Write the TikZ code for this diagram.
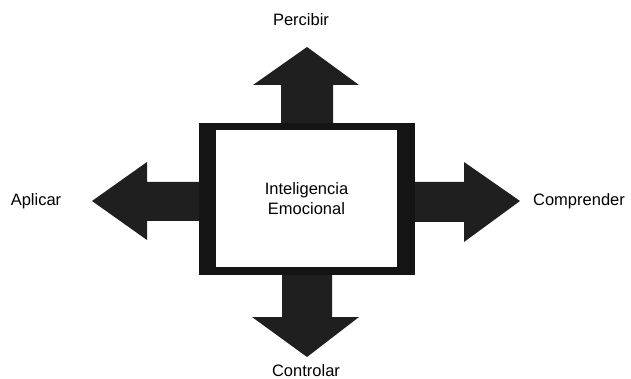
\documentclass[tikz,border=0pt]{standalone}
\usepackage{fontspec}
\setmainfont{Liberation Sans}
\begin{document}
\begin{tikzpicture}[
    x=1pt, y=-1pt,
    every node/.style={font=\fontsize{16.5}{20}\selectfont},
    frame/.style={
        fill=black!92,
        inner sep=0pt,
        minimum width=216pt,
        minimum height=152pt
    },
    inbox/.style={
        fill=white,
        inner sep=0pt,
        align=center,
        minimum width=181pt,
        minimum height=137pt
    },
    blockarrow/.style={fill=black!88},
    lbl/.style={inner sep=0pt}
]

    \useasboundingbox (0,0) rectangle (631,379);

    % Frame with the central box
    \node[frame] (outer) at (307,199) {};
    \node[inbox] (ie) at (306.5,198.5) {Inteligencia\\Emocional};

    % Arrow up
    \fill[blockarrow] (281,123) -- (281,85) -- (253,85) -- (307,47)
        -- (359,85) -- (333,85) -- (333,123) -- cycle;

    % Arrow down
    \fill[blockarrow] (282,275) -- (282,317) -- (252,317) -- (307,357)
        -- (359,317) -- (332,317) -- (332,275) -- cycle;

    % Arrow left
    \fill[blockarrow] (199,182) -- (147,182) -- (147,162) -- (92,201)
        -- (147,240) -- (147,221) -- (199,221) -- cycle;

    % Arrow right
    \fill[blockarrow] (415,182) -- (464,182) -- (464,162) -- (520,201)
        -- (464,242) -- (464,222) -- (415,222) -- cycle;

    % Labels
    \node[lbl] (percibir) at (301,20) {Percibir};
    \node[lbl] (aplicar) at (36,201) {Aplicar};
    \node[lbl] (comprender) at (579,201) {Comprender};
    \node[lbl] (controlar) at (306,371) {Controlar};

\end{tikzpicture}
\end{document}
